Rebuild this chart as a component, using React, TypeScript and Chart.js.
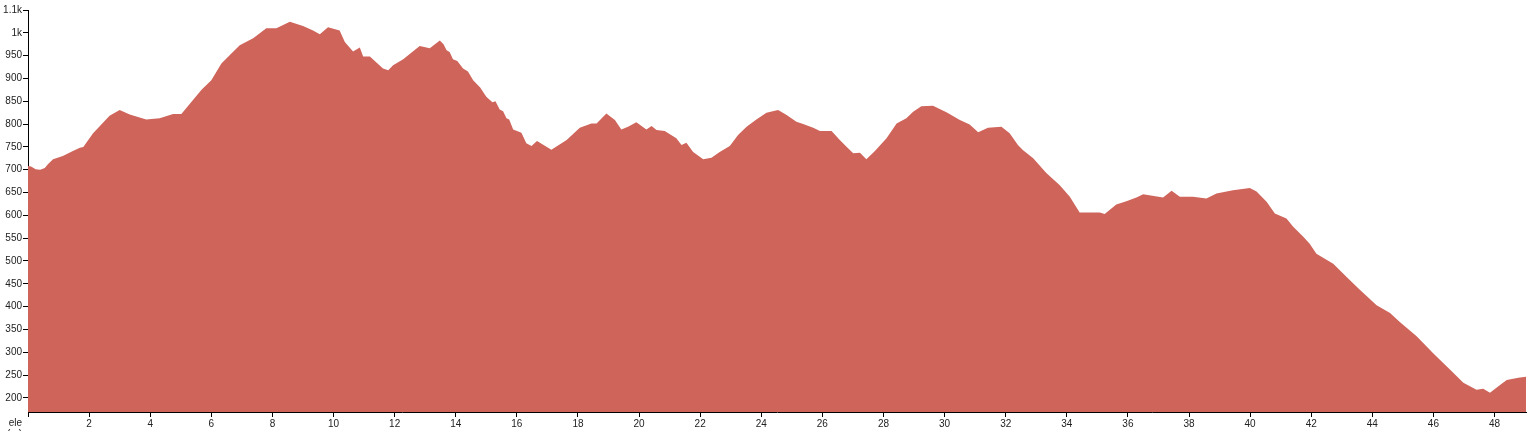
import React, { useEffect, useRef } from "react";
import { Chart, registerables } from "chart.js";

Chart.register(...registerables);

const distanceKm = [
  0.0, 0.1, 0.25, 0.4, 0.55, 0.65, 0.82, 1.14, 1.47, 1.7, 1.81, 2.13, 2.67, 3.0, 3.33, 3.87, 4.31, 4.75, 5.02,
  5.4, 5.68, 6.0, 6.33, 6.6, 6.93, 7.37, 7.8, 8.13, 8.57, 9.0, 9.33, 9.55, 9.82, 10.2, 10.37, 10.64, 10.86,
  10.97, 11.19, 11.62, 11.79, 11.95, 12.28, 12.82, 13.15, 13.48, 13.6, 13.7, 13.8, 13.91, 14.05, 14.24, 14.4,
  14.57, 14.8, 15.0, 15.2, 15.3, 15.44, 15.55, 15.66, 15.75, 15.88, 16.15, 16.31, 16.48, 16.66, 17.13, 17.63,
  18.06, 18.44, 18.61, 18.93, 19.21, 19.42, 19.64,
  19.91, 20.24, 20.41, 20.57, 20.84, 21.22, 21.39, 21.55, 21.77, 22.1, 22.37, 22.64, 22.97, 23.24, 23.52,
  23.84, 24.17, 24.55, 24.83, 25.15, 25.37, 25.7, 25.92, 26.3, 26.57, 26.84, 27.01, 27.23, 27.44, 27.72,
  28.1, 28.43, 28.75, 28.97, 29.24, 29.62, 30.06, 30.5, 30.82, 31.1, 31.42, 31.86, 32.13, 32.4, 32.56, 32.9,
  33.33, 33.77, 34.1, 34.42, 34.75, 35.08, 35.24, 35.62, 35.95, 36.28, 36.5, 37.15, 37.43, 37.7, 38.13,
  38.57, 38.9, 39.44, 39.99, 40.21, 40.54, 40.81, 41.19, 41.41, 41.74, 41.95, 42.17, 42.72, 43.16, 43.59,
  44.14, 44.58, 44.9, 45.45, 46.0, 46.54, 46.98, 47.41, 47.63, 47.85, 48.18, 48.4, 48.78, 49.03,
];

const elevationM = [
  708, 707, 701, 700, 704, 712, 723, 730, 741, 748, 750, 780, 818, 831, 821, 810, 813, 822, 822,
  853, 875, 896, 933, 951, 973, 988, 1010, 1010, 1024, 1015, 1005, 997, 1012, 1005, 980, 959, 968,
  948, 948, 922, 918, 929, 942, 971, 966, 983, 975, 962, 958, 942, 938, 922, 915,
  896, 880, 860, 848, 850, 832, 828, 813, 810, 788, 781, 758, 752, 763, 744, 765,
  792, 801, 801, 823, 809, 788, 794,
  804, 788, 796, 787, 785, 769, 754, 759, 739, 723, 726, 739, 752, 776, 794,
  810, 825, 831, 820, 805, 800, 792, 785, 785, 765, 747, 736, 737, 723, 741,
  769, 801, 813, 827, 839, 840, 826, 809, 799, 782, 792, 794, 780, 754, 743, 725,
  693, 666, 641, 606, 606, 606, 603, 624, 631, 639, 646, 639, 654, 641, 641,
  637, 648, 655, 660, 652, 630, 604, 593, 575, 553, 538, 516, 494, 465, 437,
  403, 386, 366, 335, 297, 262, 233, 218, 220, 211, 228, 239, 244, 246,
];

const yTickValues = [200, 250, 300, 350, 400, 450, 500, 550, 600, 650, 700, 750, 800, 850, 900, 950, 1000, 1050];
const yTickLabels = ["200", "250", "300", "350", "400", "450", "500", "550", "600", "650", "700", "750", "800", "850", "900", "950", "1k", "1.1k"];
const xTickValues = [0, 2, 4, 6, 8, 10, 12, 14, 16, 18, 20, 22, 24, 26, 28, 30, 32, 34, 36, 38, 40, 42, 44, 46, 48];
const yAxisLabel = ["ele", "(m)"];

const FONT = "'Liberation Sans', Arial, sans-serif";

export default function App() {
  const canvasRef = useRef<HTMLCanvasElement | null>(null);

  useEffect(() => {
    const canvas = canvasRef.current;
    if (!canvas) return;

    const axisTitlePlugin = {
      id: "axisTitle",
      afterDraw(chart: any) {
        const ctx = chart.ctx;
        ctx.save();
        ctx.fillStyle = "#222";
        ctx.font = `10px ${FONT}`;
        ctx.textAlign = "right";
        ctx.textBaseline = "middle";
        const x = chart.chartArea.left - 6;
        const y = chart.chartArea.bottom + 11;
        yAxisLabel.forEach((t, i) => ctx.fillText(t, x, y + i * 11));
        ctx.restore();
      },
    };

    const chart = new Chart(canvas, {
      type: "line",
      data: {
        datasets: [
          {
            data: distanceKm.map((d, i) => ({ x: d, y: elevationM[i] })),
            backgroundColor: "#ce645a",
            borderColor: "#ce645a",
            borderWidth: 0,
            pointRadius: 0,
            fill: "start",
            tension: 0,
          },
        ],
      },
      options: {
        animation: false,
        responsive: false,
        maintainAspectRatio: false,
        layout: { padding: { top: 10, right: 4, left: 0, bottom: 0 } },
        plugins: { legend: { display: false }, tooltip: { enabled: false } },
        scales: {
          x: {
            type: "linear",
            min: 0,
            max: 49.03,
            afterBuildTicks: (scale: any) => {
              scale.ticks = xTickValues.map((v) => ({ value: v }));
            },
            afterFit: (scale: any) => {
              scale.height = 19;
            },
            grid: { display: true, drawOnChartArea: false, drawTicks: true, tickLength: 5, color: "#000" },
            border: { display: true, color: "#000", width: 1 },
            ticks: {
              autoSkip: false,
              maxRotation: 0,
              padding: 1,
              color: "#222",
              font: { family: FONT, size: 10 },
              callback: (v: any) => (v === 0 ? "" : String(v)),
            },
          },
          y: {
            type: "linear",
            min: 169,
            max: 1050,
            afterBuildTicks: (scale: any) => {
              scale.ticks = yTickValues.map((v) => ({ value: v }));
            },
            afterFit: (scale: any) => {
              scale.width = 28;
            },
            grid: { display: true, drawOnChartArea: false, drawTicks: true, tickLength: 5, color: "#000" },
            border: { display: true, color: "#000", width: 1 },
            ticks: {
              autoSkip: false,
              padding: 1,
              color: "#222",
              font: { family: FONT, size: 10 },
              callback: (v: any) => {
                const i = yTickValues.indexOf(Number(v));
                return i >= 0 ? yTickLabels[i] : "";
              },
            },
          },
        },
      },
      plugins: [axisTitlePlugin],
    });

    return () => chart.destroy();
  }, []);

  return (
    <div style={{ position: "fixed", left: 0, top: 0, width: 1530, height: 431, background: "#fff" }}>
      <canvas ref={canvasRef} width={1530} height={431} style={{ width: 1530, height: 431, display: "block" }} />
    </div>
  );
}
